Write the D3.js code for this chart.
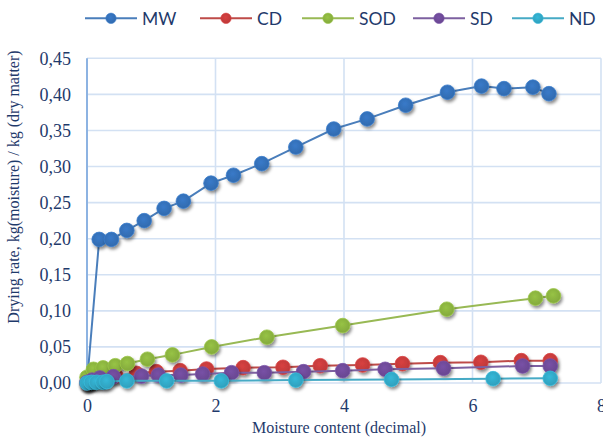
<!DOCTYPE html>
<html><head><meta charset="utf-8">
<script src="https://cdn.jsdelivr.net/npm/d3@7"></script>
<style>body{margin:0;background:#fff}svg{display:block}</style>
</head><body>
<svg id="c" width="603" height="437"></svg>
<script>
// ---- data ----
const seriesNames = ["MW","CD","SOD","SD","ND"];
const mwX = [0,0.19,0.38,0.62,0.89,1.20,1.50,1.93,2.28,2.72,3.25,3.84,4.36,4.96,5.61,6.14,6.49,6.94,7.19];
const mwY = [0,0.199,0.199,0.2115,0.225,0.242,0.252,0.277,0.288,0.304,0.327,0.352,0.366,0.385,0.403,0.4115,0.408,0.410,0.401];
const cdX = [0,0.1,0.22,0.45,0.77,1.08,1.45,1.86,2.43,3.05,3.63,4.29,4.91,5.50,6.13,6.76,7.21];
const cdY = [0,0.004,0.007,0.010,0.0134,0.0157,0.0171,0.0194,0.0213,0.0218,0.024,0.025,0.0268,0.0282,0.0287,0.031,0.031];
const sodX = [0,0.10,0.25,0.44,0.63,0.94,1.33,1.94,2.80,3.98,5.60,6.98,7.26];
const sodY = [0.008,0.019,0.021,0.024,0.027,0.033,0.039,0.050,0.0635,0.0796,0.1023,0.1176,0.1208];
const sdX = [0,0.08,0.2,0.41,0.85,1.11,1.46,1.80,2.25,2.76,3.37,3.98,4.64,5.55,6.78,7.21];
const sdY = [0.001,0.004,0.007,0.0088,0.0097,0.011,0.011,0.0125,0.0143,0.0143,0.0157,0.0171,0.019,0.0204,0.0236,0.0236];
const ndX = [0,0.07,0.15,0.25,0.31,0.62,1.24,2.09,3.25,4.74,6.32,7.21];
const ndY = [0,0.001,0.001,0.001,0.002,0.003,0.003,0.003,0.004,0.005,0.006,0.0065];
const yTicks = [0,0.05,0.10,0.15,0.20,0.25,0.30,0.35,0.40,0.45];
const yTickLabels = ["0,00","0,05","0,10","0,15","0,20","0,25","0,30","0,35","0,40","0,45"];
const xTicks = [0,2,4,6,8];
const xTickLabels = ["0","2","4","6","8"];
const xTitle = "Moisture content (decimal)";
const yTitle = "Drying rate, kg(moisture) / kg (dry matter)";

const lineColors = ["#4A7EBB","#BE4B48","#98B954","#7D60A0","#46AAC5"];
const markColors = ["#3470B8","#C63B3B","#8AB23F","#6E4A98","#31A8C6"];
const allX = [mwX,cdX,sodX,sdX,ndX], allY=[mwY,cdY,sodY,sdY,ndY];

const svg = d3.select("#c");
const defs = svg.append("defs");
const f = defs.append("filter").attr("id","sh").attr("x","-50%").attr("y","-50%").attr("width","200%").attr("height","200%");
f.append("feDropShadow").attr("dx",1.5).attr("dy",2.5).attr("stdDeviation",1.6).attr("flood-color","#000").attr("flood-opacity",0.45);
markColors.forEach((c,i)=>{
  const g = defs.append("radialGradient").attr("id","g"+i).attr("cx","45%").attr("cy","40%").attr("r","60%");
  g.append("stop").attr("offset","0%").attr("stop-color",d3.color(c).brighter(0.25));
  g.append("stop").attr("offset","100%").attr("stop-color",d3.color(c).darker(0.15));
});

const x = d3.scaleLinear().domain([0,8]).range([87,601]);
const y = d3.scaleLinear().domain([0,0.45]).range([383,58.3]);

// gridlines
const grid = svg.append("g").attr("stroke","#D3E1F3").attr("stroke-width",1.6);
yTicks.forEach(t=>grid.append("line").attr("x1",x(0)).attr("x2",x(8)).attr("y1",y(t)).attr("y2",y(t)));
xTicks.slice(1).forEach(t=>grid.append("line").attr("x1",x(t)).attr("x2",x(t)).attr("y1",y(0)).attr("y2",y(0.45)));
svg.append("line").attr("x1",x(0)).attr("x2",x(0)).attr("y1",y(0.45)).attr("y2",y(0)+1).attr("stroke","#8DB3E2").attr("stroke-width",2);

// axes
const ya = d3.axisLeft(y).tickValues(yTicks).tickSize(0).tickPadding(16).tickFormat((d,i)=>yTickLabels[i]);
const gy = svg.append("g").attr("transform",`translate(${x(0)},0)`).call(ya);
gy.select(".domain").remove();
gy.selectAll("text").attr("font-family","Liberation Serif").attr("font-size",18).attr("fill","#1F3A6B");
const xa = d3.axisBottom(x).tickValues(xTicks).tickSize(0).tickPadding(16).tickFormat((d,i)=>xTickLabels[i]);
const gx = svg.append("g").attr("transform",`translate(0,${y(0)})`).call(xa);
gx.select(".domain").remove();
gx.selectAll("text").attr("font-family","Liberation Serif").attr("font-size",18).attr("fill","#1F3A6B");

svg.append("text").attr("x",339).attr("y",433).attr("text-anchor","middle").attr("font-family","Liberation Serif").attr("font-size",16).attr("fill","#1F3A6B").text(xTitle);
svg.append("text").attr("transform","translate(19,187) rotate(-90)").attr("text-anchor","middle").attr("font-family","Liberation Serif").attr("font-size",16).attr("fill","#1F3A6B").text(yTitle);

// series
const line = d3.line().x(d=>x(d[0])).y(d=>y(d[1]));
seriesNames.forEach((n,i)=>{
  const pts = allX[i].map((v,j)=>[v,allY[i][j]]);
  const g = svg.append("g");
  g.append("path").datum(pts).attr("d",line).attr("fill","none").attr("stroke",lineColors[i]).attr("stroke-width",2);
  g.selectAll("circle").data(pts).join("circle").attr("cx",d=>x(d[0])).attr("cy",d=>y(d[1])).attr("r",7.3)
    .attr("fill",`url(#g${i})`).attr("stroke",d3.color(markColors[i]).brighter(0.3)).attr("stroke-width",0.8).attr("filter","url(#sh)");
});

// legend
const legX = [85,200,302,413,512];
const legG = svg.append("g");
seriesNames.forEach((n,i)=>{
  const lx = legX[i], ly = 18.3;
  legG.append("line").attr("x1",lx).attr("x2",lx+52).attr("y1",ly).attr("y2",ly).attr("stroke",lineColors[i]).attr("stroke-width",2);
  legG.append("circle").attr("cx",lx+26).attr("cy",ly).attr("r",5.2).attr("fill",`url(#g${i})`).attr("stroke",d3.color(markColors[i]).brighter(0.3)).attr("stroke-width",0.6);
  legG.append("text").attr("x",lx+57).attr("y",ly+6.5).attr("font-family","Lato").attr("font-size",17.5).attr("fill","#1F3A6B").text(n);
});
</script>
</body></html>
